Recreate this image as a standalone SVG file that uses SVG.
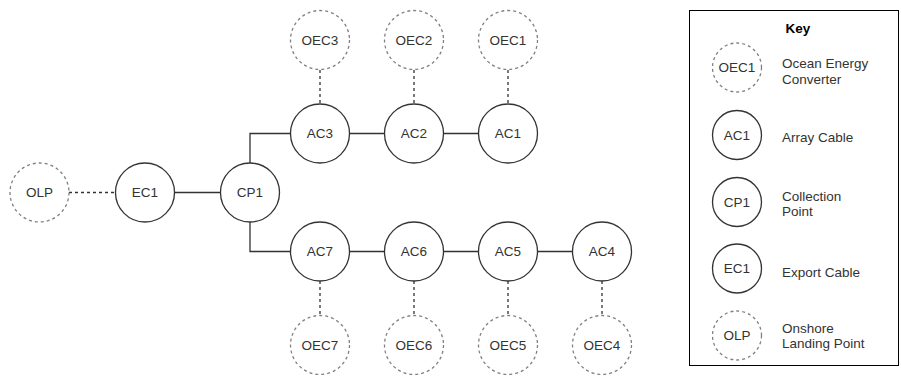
<svg xmlns="http://www.w3.org/2000/svg" width="901" height="376" viewBox="0 0 901 376">
  <style>
    .solid { fill: #ffffff; stroke: #333333; stroke-width: 1.3; }
    .dash { fill: #ffffff; stroke: #808080; stroke-width: 1.3; stroke-dasharray: 3 3; }
    .lbl { font-family: "Liberation Sans", Arial, sans-serif; font-size: 13.5px; fill: #333333; text-anchor: middle; dominant-baseline: central; }
    .keytxt { font-family: "Liberation Sans", Arial, sans-serif; font-size: 13.5px; fill: #333333; }
    .wire { fill: none; stroke: #333333; stroke-width: 1.3; }
    .wire-d { fill: none; stroke: #333333; stroke-width: 1.3; stroke-dasharray: 3 3; }
  </style>

  <rect width="901" height="376" fill="#ffffff"/>

  <!-- connectors -->
  <g id="connectors">
    <line class="wire-d" x1="69" y1="192.5" x2="115.5" y2="192.5"/>
    <line class="wire" x1="174.5" y1="192.5" x2="220.5" y2="192.5"/>
    <polyline class="wire" points="250,163 250,133.5 290.5,133.5"/>
    <polyline class="wire" points="250,222 250,251.5 290.5,251.5"/>
    <line class="wire" x1="349.5" y1="133.5" x2="384.5" y2="133.5"/>
    <line class="wire" x1="443.5" y1="133.5" x2="478.5" y2="133.5"/>
    <line class="wire" x1="349.5" y1="251.5" x2="384.5" y2="251.5"/>
    <line class="wire" x1="443.5" y1="251.5" x2="478.5" y2="251.5"/>
    <line class="wire" x1="537.5" y1="251.5" x2="572.5" y2="251.5"/>
    <line class="wire-d" x1="320" y1="70" x2="320" y2="104"/>
    <line class="wire-d" x1="414" y1="70" x2="414" y2="104"/>
    <line class="wire-d" x1="508" y1="70" x2="508" y2="104"/>
    <line class="wire-d" x1="320" y1="281" x2="320" y2="315.5"/>
    <line class="wire-d" x1="414" y1="281" x2="414" y2="315.5"/>
    <line class="wire-d" x1="508" y1="281" x2="508" y2="315.5"/>
    <line class="wire-d" x1="602" y1="281" x2="602" y2="315.5"/>
  </g>

  <!-- nodes -->
  <g id="OLP"><circle class="dash" cx="39.5" cy="192.5" r="29.5"/><text class="lbl" x="39.5" y="192.5">OLP</text></g>
  <g id="EC1"><circle class="solid" cx="145" cy="192.5" r="29.5"/><text class="lbl" x="145" y="192.5">EC1</text></g>
  <g id="CP1"><circle class="solid" cx="250" cy="192.5" r="29.5"/><text class="lbl" x="250" y="192.5">CP1</text></g>

  <g id="AC3"><circle class="solid" cx="320" cy="133.5" r="29.5"/><text class="lbl" x="320" y="133.5">AC3</text></g>
  <g id="AC2"><circle class="solid" cx="414" cy="133.5" r="29.5"/><text class="lbl" x="414" y="133.5">AC2</text></g>
  <g id="AC1"><circle class="solid" cx="508" cy="133.5" r="29.5"/><text class="lbl" x="508" y="133.5">AC1</text></g>

  <g id="OEC3"><circle class="dash" cx="320" cy="40" r="29.5"/><text class="lbl" x="320" y="40">OEC3</text></g>
  <g id="OEC2"><circle class="dash" cx="414" cy="40" r="29.5"/><text class="lbl" x="414" y="40">OEC2</text></g>
  <g id="OEC1"><circle class="dash" cx="508" cy="40" r="29.5"/><text class="lbl" x="508" y="40">OEC1</text></g>

  <g id="AC7"><circle class="solid" cx="320" cy="251.5" r="29.5"/><text class="lbl" x="320" y="251.5">AC7</text></g>
  <g id="AC6"><circle class="solid" cx="414" cy="251.5" r="29.5"/><text class="lbl" x="414" y="251.5">AC6</text></g>
  <g id="AC5"><circle class="solid" cx="508" cy="251.5" r="29.5"/><text class="lbl" x="508" y="251.5">AC5</text></g>
  <g id="AC4"><circle class="solid" cx="602" cy="251.5" r="29.5"/><text class="lbl" x="602" y="251.5">AC4</text></g>

  <g id="OEC7"><circle class="dash" cx="320" cy="345" r="29.5"/><text class="lbl" x="320" y="345">OEC7</text></g>
  <g id="OEC6"><circle class="dash" cx="414" cy="345" r="29.5"/><text class="lbl" x="414" y="345">OEC6</text></g>
  <g id="OEC5"><circle class="dash" cx="508" cy="345" r="29.5"/><text class="lbl" x="508" y="345">OEC5</text></g>
  <g id="OEC4"><circle class="dash" cx="602" cy="345" r="29.5"/><text class="lbl" x="602" y="345">OEC4</text></g>

  <!-- legend -->
  <g id="key">
    <rect x="689.5" y="10.5" width="209" height="355" fill="#ffffff" stroke="#000000" stroke-width="1"/>
    <text x="798" y="28" font-family="Liberation Sans, Arial, sans-serif" font-size="13.5" font-weight="bold" fill="#000000" text-anchor="middle" dominant-baseline="central">Key</text>

    <circle class="dash" cx="737" cy="67.5" r="24.5"/>
    <text class="lbl" x="737" y="67.5">OEC1</text>
    <text class="keytxt" x="782" y="68">Ocean Energy</text>
    <text class="keytxt" x="782" y="84">Converter</text>

    <circle class="solid" cx="737" cy="135" r="24.5"/>
    <text class="lbl" x="737" y="135">AC1</text>
    <text class="keytxt" x="782" y="142">Array Cable</text>

    <circle class="solid" cx="737" cy="202" r="24.5"/>
    <text class="lbl" x="737" y="202">CP1</text>
    <text class="keytxt" x="782" y="201">Collection</text>
    <text class="keytxt" x="782" y="216">Point</text>

    <circle class="solid" cx="737" cy="268.5" r="24.5"/>
    <text class="lbl" x="737" y="268.5">EC1</text>
    <text class="keytxt" x="782" y="277">Export Cable</text>

    <circle class="dash" cx="737" cy="335.5" r="24.5"/>
    <text class="lbl" x="737" y="335.5">OLP</text>
    <text class="keytxt" x="782" y="333">Onshore</text>
    <text class="keytxt" x="782" y="348">Landing Point</text>
  </g>
</svg>
